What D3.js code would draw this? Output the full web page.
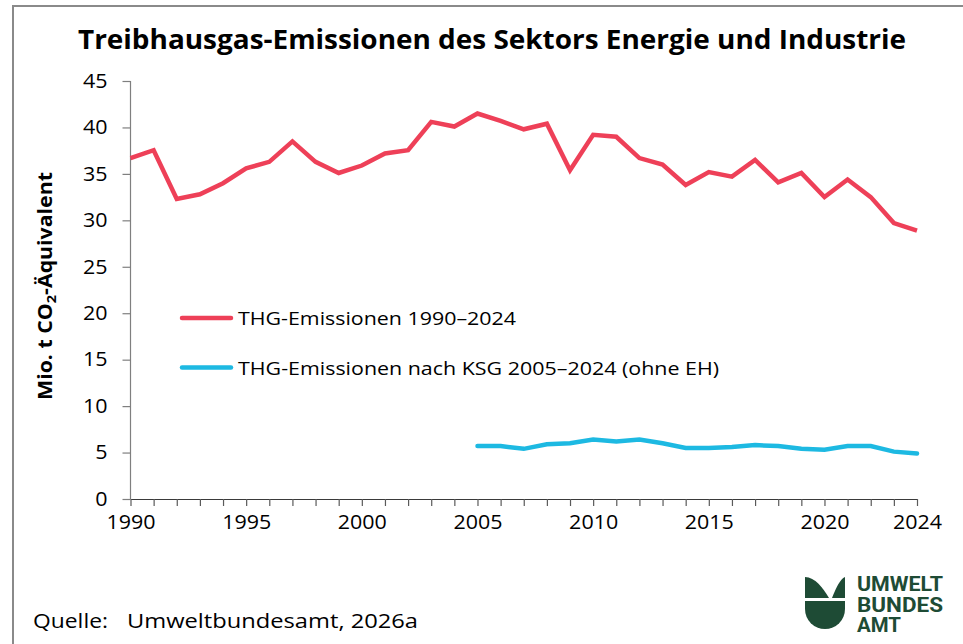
<!DOCTYPE html>
<html><head><meta charset="utf-8">
<script src="https://cdn.jsdelivr.net/npm/d3@7/dist/d3.min.js"></script>
<style>
html,body{margin:0;padding:0;background:#fff;}
svg{display:block;font-family:"Open Sans",sans-serif;}
</style></head>
<body>
<svg id="c" width="963" height="644"></svg>
<script>
const years = d3.range(1990, 2025);
const thgTotal = [36.7,37.55,32.3,32.8,34.0,35.6,36.3,38.5,36.3,35.1,35.9,37.2,37.55,40.6,40.1,41.5,40.7,39.8,40.4,35.4,39.2,39.0,36.7,36.0,33.8,35.2,34.7,36.5,34.1,35.1,32.5,34.4,32.5,29.7,28.9];
const ksgYears = d3.range(2005, 2025);
const thgKSG = [5.7,5.7,5.4,5.9,6.0,6.4,6.2,6.4,6.0,5.5,5.5,5.6,5.8,5.7,5.4,5.3,5.7,5.7,5.1,4.9];
const yTicks = [0,5,10,15,20,25,30,35,40,45];
const xLabelYears = [1990,1995,2000,2005,2010,2015,2020,2024];
const legendLabels = ["THG-Emissionen 1990–2024","THG-Emissionen nach KSG 2005–2024 (ohne EH)"];
const colors = ["#EE4058","#1DB9E2"];

const svg = d3.select("#c");
function stretch(sel, f){
  sel.each(function(){
    const w = this.getComputedTextLength();
    if(w>0) d3.select(this).attr("textLength", w*f).attr("lengthAdjust","spacingAndGlyphs");
  });
}
// frame
svg.append("line").attr("x1",13).attr("x2",963).attr("y1",6).attr("y2",6).attr("stroke","#8a8a8a").attr("stroke-width",2);
svg.append("line").attr("x1",13).attr("x2",13).attr("y1",5).attr("y2",644).attr("stroke","#8a8a8a").attr("stroke-width",2);

const x = d3.scaleLinear().domain([1990,2024]).range([130.5,917]);
const y = d3.scaleLinear().domain([0,45]).range([499,81]);

const title = svg.append("text").attr("x",492).attr("y",49).attr("text-anchor","middle")
  .attr("font-weight",700).attr("font-size",26).attr("fill","#000")
  .text("Treibhausgas-Emissionen des Sektors Energie und Industrie");
title.attr("textLength",828).attr("lengthAdjust","spacingAndGlyphs");

// y axis
const ya = svg.append("g").attr("transform","translate(130.5,0)")
  .call(d3.axisLeft(y).tickValues(yTicks).tickSize(8).tickPadding(15).tickFormat(d3.format("d")));
ya.select(".domain").attr("stroke","#7f7f7f").attr("stroke-width",1.2).attr("d","M0,81V499");
ya.selectAll(".tick line").attr("stroke","#7f7f7f").attr("stroke-width",1.2);
ya.selectAll(".tick text").attr("font-size",19.5).attr("fill","#000").attr("font-family","Open Sans");
stretch(ya.selectAll(".tick text"),1.1);

// x axis
const xa = svg.append("g").attr("transform","translate(0,499)")
  .call(d3.axisBottom(x).tickValues(years).tickSize(7).tickSizeOuter(0)
    .tickFormat(d => xLabelYears.includes(d) ? d : ""));
xa.select(".domain").attr("stroke","#3a3a3a").attr("stroke-width",1.2);
xa.selectAll(".tick line").attr("stroke","#5a5a5a").attr("stroke-width",1.2);
xa.selectAll(".tick text").attr("font-size",19.5).attr("fill","#000").attr("font-family","Open Sans").attr("dy","1.05em");
stretch(xa.selectAll(".tick text"),1.1);

const line = d3.line().x(d=>x(d[0])).y(d=>y(d[1]));
svg.append("path").datum(years.map((yr,i)=>[yr,thgTotal[i]]))
  .attr("d",line).attr("fill","none").attr("stroke",colors[0]).attr("stroke-width",4.5).attr("stroke-linejoin","miter");
svg.append("path").datum(ksgYears.map((yr,i)=>[yr,thgKSG[i]]))
  .attr("d",line).attr("fill","none").attr("stroke",colors[1]).attr("stroke-width",4.5).attr("stroke-linecap","round");

// legend
const legW = [278,481];
legendLabels.forEach((t,i)=>{
  const ly = 318 + i*49.5;
  svg.append("line").attr("x1",182).attr("x2",231).attr("y1",ly).attr("y2",ly)
    .attr("stroke",colors[i]).attr("stroke-width",4.5).attr("stroke-linecap","round");
  svg.append("text").attr("x",238).attr("y",ly+7).attr("font-size",19).attr("fill","#000")
    .attr("textLength",legW[i]).attr("lengthAdjust","spacingAndGlyphs").text(t);
});

// y title
const yt = svg.append("text").attr("transform","translate(52,286) rotate(-90)")
  .attr("text-anchor","middle").attr("font-weight",700).attr("font-size",19).attr("fill","#000");
yt.append("tspan").text("Mio. t CO");
yt.append("tspan").attr("font-size",13).attr("dy",4).text("2");
yt.append("tspan").attr("dy",-4).text("-Äquivalent");
const ytw = yt.node().getComputedTextLength();
yt.attr("transform",`translate(52,286) rotate(-90) scale(${228/ytw},1)`);

// source
const s1 = svg.append("text").attr("x",33).attr("y",628).attr("font-size",20.5).attr("fill","#000").text("Quelle:");
const s2 = svg.append("text").attr("x",127).attr("y",628).attr("font-size",20.5).attr("fill","#000").text("Umweltbundesamt, 2026a");
s1.attr("textLength",75).attr("lengthAdjust","spacingAndGlyphs");
s2.attr("textLength",291).attr("lengthAdjust","spacingAndGlyphs");

// logo
const g = svg.append("g").attr("fill","#1E4B35");
g.append("path").attr("d","M805,577 C815,577 823,588 829,598 L805,598 Z");
g.append("path").attr("d","M832,598 C836,588 840,579 845,577 L845,598 Z");
g.append("path").attr("d","M805,601 L845,601 L845,609 A20,20 0 0 1 805,609 Z");
const lt = g.append("text").attr("font-family","Roboto").attr("font-weight",700).attr("font-size",21);
["UMWELT","BUNDES","AMT"].forEach((t,i)=>{
  lt.append("tspan").attr("x",857).attr("y",591+i*20.5)
    .attr("textLength",i<2?86:44).attr("lengthAdjust","spacingAndGlyphs").text(t);
});
</script>
</body></html>
